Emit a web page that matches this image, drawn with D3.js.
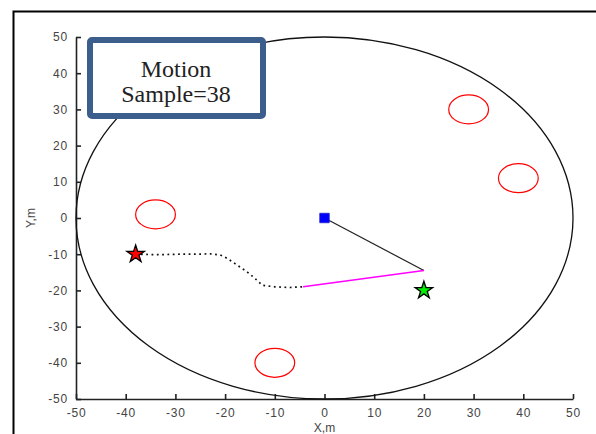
<!DOCTYPE html>
<html>
<head>
<meta charset="utf-8">
<script src="https://cdn.jsdelivr.net/npm/d3@7"></script>
<style>
	body { margin: 0; background: #fff; }
	svg { display: block; }
</style>
</head>
<body>
<div id="chart"></div>
<script>
// axis ticks
var xTicks = [-50, -40, -30, -20, -10, 0, 10, 20, 30, 40, 50];
var yTicks = [-50, -40, -30, -20, -10, 0, 10, 20, 30, 40, 50];

// workspace boundary (centre x, centre y, radius)
var boundary = [0, 0, 50];

// obstacles (centre x, centre y), all radius 4
var obstacleX = [29, 39, -34, -10];
var obstacleY = [30, 11, 1, -40];
var obstacleR = 4;

// path walked so far (dotted)
var pathX = [-38, -35, -32, -29, -26, -23, -21, -19.5, -18, -16.5, -15, -13.5, -12.5, -10, -7, -4.3];
var pathY = [-10, -10.1, -10.1, -10, -10, -9.9, -10.2, -11.2, -12.6, -14, -15.5, -17.3, -18.6, -19, -19.2, -19];

// current motion sample (magenta) and the link to the robot (black)
var sampleX = [-4.3, 20];
var sampleY = [-19, -14.5];
var linkX = [0, 20];
var linkY = [0, -14.5];

var robot = [0, 0];
var start = [-38, -10];
var goal = [20, -20];

var label = ["Motion", "Sample=38"];

var W = 596, H = 434;

var svg = d3.select("#chart").append("svg")
	.attr("width", W)
	.attr("height", H);

// outer frame (cropped on the right and bottom)
svg.append("rect")
	.attr("x", 13.5).attr("y", 11.5)
	.attr("width", 700).attr("height", 600)
	.attr("fill", "#fff")
	.attr("stroke", "#000")
	.attr("stroke-width", 2);

var x = d3.scaleLinear().domain([-50, 50]).range([76, 573]);
var y = d3.scaleLinear().domain([-50, 50]).range([399, 37]);

var line = d3.line()
	.x(function (d) { return x(d[0]); })
	.y(function (d) { return y(d[1]); });

var fmt = function (d) { return String(d); };  // plain hyphen minus like the original

// bottom axis
var xAxis = svg.append("g")
	.attr("transform", "translate(0," + y(-50) + ")")
	.call(d3.axisBottom(x).tickValues(xTicks).tickFormat(fmt).tickSizeInner(-5).tickSizeOuter(0).tickPadding(9));

// left axis
var yAxis = svg.append("g")
	.attr("transform", "translate(" + x(-50) + ",0)")
	.call(d3.axisLeft(y).tickValues(yTicks).tickFormat(fmt).tickSizeInner(-5).tickSizeOuter(0).tickPadding(8));

[xAxis, yAxis].forEach(function (a) {
	a.select(".domain").attr("stroke", "#222").attr("stroke-width", 1.6);
	a.selectAll(".tick line").attr("stroke", "#222").attr("stroke-width", 1.6);
	a.selectAll(".tick text")
		.attr("fill", "#444")
		.style("font-family", "'Liberation Sans', Arial, sans-serif")
		.style("font-size", "12px")
		.style("letter-spacing", "0.8px");
});

svg.append("text")
	.attr("x", x(0))
	.attr("y", 432)
	.attr("text-anchor", "middle")
	.attr("fill", "#444")
	.style("font-family", "'Liberation Sans', Arial, sans-serif")
	.style("font-size", "12px")
	.text("X,m");

svg.append("text")
	.attr("transform", "translate(35," + y(0) + ") rotate(-90)")
	.attr("text-anchor", "middle")
	.attr("fill", "#444")
	.style("font-family", "'Liberation Sans', Arial, sans-serif")
	.style("font-size", "12px")
	.text("Y,m");

// workspace boundary
svg.append("ellipse")
	.attr("cx", x(boundary[0]))
	.attr("cy", y(boundary[1]))
	.attr("rx", x(boundary[2]) - x(0))
	.attr("ry", y(0) - y(boundary[2]))
	.attr("fill", "none")
	.attr("stroke", "#111")
	.attr("stroke-width", 1.3);

// obstacles
svg.selectAll(".obs")
	.data(obstacleX)
	.enter().append("ellipse")
	.attr("class", "obs")
	.attr("cx", function (d) { return x(d); })
	.attr("cy", function (d, i) { return y(obstacleY[i]); })
	.attr("rx", x(obstacleR) - x(0))
	.attr("ry", y(0) - y(obstacleR))
	.attr("fill", "none")
	.attr("stroke", "#ff0000")
	.attr("stroke-width", 1.2);

// walked path
svg.append("path")
	.datum(d3.zip(pathX, pathY))
	.attr("fill", "none")
	.attr("stroke", "#111")
	.attr("stroke-width", 1.7)
	.attr("stroke-dasharray", "1.8,3.5")
	.attr("d", line);

// link to robot
svg.append("path")
	.datum(d3.zip(linkX, linkY))
	.attr("fill", "none")
	.attr("stroke", "#222")
	.attr("stroke-width", 1.2)
	.attr("d", line);

// motion sample
svg.append("path")
	.datum(d3.zip(sampleX, sampleY))
	.attr("fill", "none")
	.attr("stroke", "#ff00ff")
	.attr("stroke-width", 1.5)
	.attr("d", line);

// robot
svg.append("path")
	.attr("transform", "translate(" + x(robot[0]) + "," + y(robot[1]) + ")")
	.attr("d", d3.symbol(d3.symbolSquare, 90)())
	.attr("fill", "#0000ff")
	.attr("stroke", "#2222cc")
	.attr("stroke-width", 0.8);

// start and goal stars
[[start, "#ff0000"], [goal, "#00ee00"]].forEach(function (s) {
	svg.append("path")
		.attr("transform", "translate(" + x(s[0][0]) + "," + y(s[0][1]) + ")")
		.attr("d", d3.symbol(d3.symbolStar, 95)())
		.attr("fill", s[1])
		.attr("stroke", "#000")
		.attr("stroke-width", 1.3);
});

// annotation box
svg.append("rect")
	.attr("x", 90).attr("y", 40)
	.attr("width", 173).attr("height", 76)
	.attr("rx", 2)
	.attr("fill", "#fff")
	.attr("stroke", "#3c5e8c")
	.attr("stroke-width", 6);

svg.selectAll(".lbl")
	.data(label)
	.enter().append("text")
	.attr("class", "lbl")
	.attr("x", 176)
	.attr("y", function (d, i) { return 77 + i * 25; })
	.attr("text-anchor", "middle")
	.attr("fill", "#222")
	.style("font-family", "'Liberation Serif', 'Times New Roman', serif")
	.style("font-size", "24px")
	.text(function (d) { return d; });
</script>
</body>
</html>
